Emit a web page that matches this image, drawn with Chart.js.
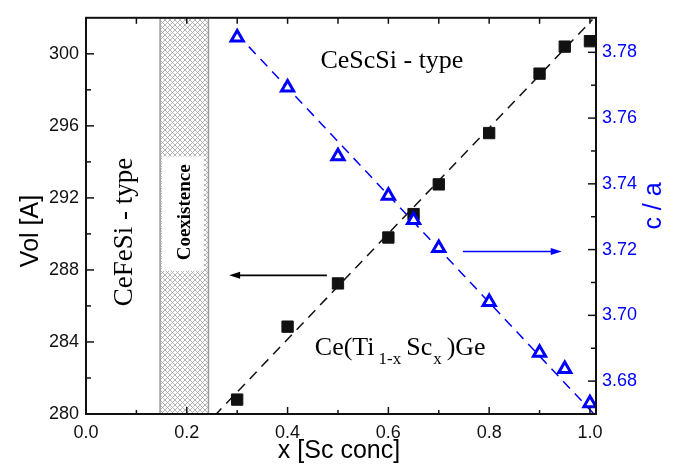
<!DOCTYPE html>
<html>
<head>
<meta charset="utf-8">
<script src="https://cdn.jsdelivr.net/npm/chart.js@4.4.0/dist/chart.umd.min.js"></script>
<style>
  html, body { margin: 0; padding: 0; background: #fff; }
  #wrap { width: 674px; height: 466px; }
</style>
</head>
<body>
<div id="wrap"><canvas id="chart" width="674" height="466"></canvas></div>
<script>
// Ce(Ti1-x Scx)Ge : cell volume (left) and c/a (right) vs Sc concentration

const scConc = [0.3, 0.4, 0.5, 0.6, 0.65, 0.7, 0.8, 0.9, 0.95, 1.0];
const cellVol = [280.8, 284.85, 287.25, 289.8, 291.1, 292.75, 295.6, 298.9, 300.4, 300.7];
const cOverA = [3.7845, 3.7693, 3.7484, 3.7364, 3.729, 3.7205, 3.7041, 3.6886, 3.6837, 3.6733];

// linear fits, end points only
const volFitX = [0.255, 1.005];
const volFit = [279.9, 301.9];
const caFitX = [0.3, 1.008];
const caFit = [3.7855, 3.670];

// two-phase region in x
const coexistence = [0.147, 0.243];

const xTicks = [0.0, 0.2, 0.4, 0.6, 0.8, 1.0];
const volTicks = [280, 284, 288, 292, 296, 300];
const caTicks = [3.68, 3.70, 3.72, 3.74, 3.76, 3.78];

const BLUE = '#0000ff';
const SANS = '"Liberation Sans", Arial, sans-serif';
const SERIF = '"Liberation Serif", "Times New Roman", serif';

function pts(xs, ys) {
  return xs.map((x, i) => ({ x: x, y: ys[i] }));
}

// crosshatch fill for the coexistence band
function makeHatch(ctx) {
  const n = 5;
  const c = document.createElement('canvas');
  c.width = n; c.height = n;
  const p = c.getContext('2d');
  p.fillStyle = '#fff';
  p.fillRect(0, 0, n, n);
  p.strokeStyle = '#a2a2a2';
  p.lineWidth = 0.8;
  p.beginPath();
  p.moveTo(0, 0); p.lineTo(n, n);
  p.moveTo(n, 0); p.lineTo(0, n);
  p.stroke();
  return ctx.createPattern(c, 'repeat');
}

const band = {
  id: 'band',
  beforeDatasetsDraw(chart) {
    const { ctx, chartArea: a, scales } = chart;
    const sx = scales.x, sy = scales.y;
    const x0 = sx.getPixelForValue(coexistence[0]);
    const x1 = sx.getPixelForValue(coexistence[1]);
    ctx.save();
    ctx.fillStyle = makeHatch(ctx);
    ctx.fillRect(x0, a.top, x1 - x0, a.height);
    ctx.strokeStyle = '#9a9a9a';
    ctx.lineWidth = 1.5;
    ctx.strokeRect(x0, a.top, x1 - x0, a.height);

    // label box
    const bx0 = sx.getPixelForValue(0.151), bx1 = sx.getPixelForValue(0.234);
    const by0 = sy.getPixelForValue(294.3), by1 = sy.getPixelForValue(287.95);
    ctx.fillStyle = '#fff';
    ctx.fillRect(bx0, by0, bx1 - bx0, by1 - by0);
    ctx.fillStyle = '#000';
    ctx.font = 'bold 19px ' + SERIF;
    ctx.translate(sx.getPixelForValue(0.206), sy.getPixelForValue(291.2));
    ctx.rotate(-Math.PI / 2);
    ctx.textAlign = 'center';
    ctx.textBaseline = 'alphabetic';
    ctx.fillText('Coexistence', 0, 0);
    ctx.restore();
  }
};

function arrow(ctx, x1, y, x2, color) {
  const dir = Math.sign(x2 - x1);
  ctx.strokeStyle = color;
  ctx.fillStyle = color;
  ctx.lineWidth = 1.6;
  ctx.beginPath();
  ctx.moveTo(x1, y);
  ctx.lineTo(x2 - dir * 6, y);
  ctx.stroke();
  ctx.beginPath();
  ctx.moveTo(x2, y);
  ctx.lineTo(x2 - dir * 11, y - 3.5);
  ctx.lineTo(x2 - dir * 11, y + 3.5);
  ctx.closePath();
  ctx.fill();
}

const notes = {
  id: 'notes',
  afterDatasetsDraw(chart) {
    const { ctx, scales } = chart;
    const sx = scales.x, sy = scales.y, sc = scales.y2;
    ctx.save();
    ctx.fillStyle = '#000';
    ctx.textBaseline = 'alphabetic';

    ctx.font = '26px ' + SERIF;
    ctx.textAlign = 'center';
    ctx.fillText('CeScSi - type', sx.getPixelForValue(0.607), sy.getPixelForValue(299.2));

    // Ce(Ti1-x Scx)Ge with subscripts
    let x = sx.getPixelForValue(0.454);
    const y = sy.getPixelForValue(283.3);
    ctx.textAlign = 'left';
    const parts = [['Ce(Ti', 26, 0, 4], ['1-x', 17, 9, 5], ['Sc', 26, 0, 1], ['x', 17, 9, 5], [')Ge', 26, 0, 0]];
    parts.forEach(([t, size, dy, gap]) => {
      ctx.font = size + 'px ' + SERIF;
      ctx.fillText(t, x, y + dy);
      x += ctx.measureText(t).width + gap;
    });

    ctx.save();
    ctx.font = '27px ' + SERIF;
    ctx.textAlign = 'center';
    ctx.translate(sx.getPixelForValue(0.091), sy.getPixelForValue(290.1));
    ctx.rotate(-Math.PI / 2);
    ctx.fillText('CeFeSi - type', 0, 0);
    ctx.restore();

    // arrows pointing to the axis each series belongs to
    arrow(ctx, sx.getPixelForValue(0.478), sy.getPixelForValue(287.7), sx.getPixelForValue(0.284), '#000');
    arrow(ctx, sx.getPixelForValue(0.748), sc.getPixelForValue(3.7194), sx.getPixelForValue(0.944), BLUE);
    ctx.restore();
  }
};

const frame = {
  id: 'frame',
  afterDraw(chart) {
    const { ctx, chartArea: a, scales } = chart;
    const sx = scales.x, sy = scales.y, sc = scales.y2;
    ctx.save();
    ctx.strokeStyle = '#111';
    ctx.lineWidth = 1.5;
    const line = (x1, y1, x2, y2) => {
      ctx.beginPath(); ctx.moveTo(x1, y1); ctx.lineTo(x2, y2); ctx.stroke();
    };
    xTicks.forEach((v, i) => {
      const p = sx.getPixelForValue(v);
      line(p, a.bottom, p, a.bottom - 7);
      line(p, a.top, p, a.top + 6);
      if (i < xTicks.length - 1) {
        const m = sx.getPixelForValue((v + xTicks[i + 1]) / 2);
        line(m, a.bottom, m, a.bottom - 4);
        line(m, a.top, m, a.top + 6);
      }
    });
    volTicks.forEach((v, i) => {
      const p = sy.getPixelForValue(v);
      line(a.left, p, a.left + 8, p);
      if (i < volTicks.length - 1) {
        const m = sy.getPixelForValue((v + volTicks[i + 1]) / 2);
        line(a.left, m, a.left + 5, m);
      }
    });
    caTicks.forEach((v, i) => {
      const p = sc.getPixelForValue(v);
      line(a.right, p, a.right - 8, p);
      if (i < caTicks.length - 1) {
        const m = sc.getPixelForValue((v + caTicks[i + 1]) / 2);
        line(a.right, m, a.right - 5, m);
      }
    });
    ctx.lineWidth = 2;
    ctx.strokeRect(a.left, a.top, a.width, a.height);

    // axis titles
    ctx.textBaseline = 'alphabetic';
    ctx.textAlign = 'center';
    ctx.fillStyle = '#000';
    ctx.font = '25px ' + SANS;
    ctx.fillText('x [Sc conc]', 339, 458);
    ctx.save();
    ctx.translate(38, 231);
    ctx.rotate(-Math.PI / 2);
    ctx.fillText('Vol [A]', 0, 0);
    ctx.restore();
    ctx.save();
    ctx.fillStyle = BLUE;
    ctx.translate(661, 206);
    ctx.rotate(-Math.PI / 2);
    ctx.fillText('c / a', 0, 0);
    ctx.restore();
    ctx.restore();
  }
};

function fixedTicks(values) {
  return scale => { scale.ticks = values.map(v => ({ value: v })); };
}

const tickFont = { family: SANS, size: 18 };

new Chart(document.getElementById('chart'), {
  type: 'scatter',
  data: {
    datasets: [
      {
        label: 'c/a',
        data: pts(scConc, cOverA),
        yAxisID: 'y2',
        pointStyle: 'triangle',
        pointRadius: 7,
        pointBorderWidth: 3,
        borderColor: BLUE,
        backgroundColor: '#fff'
      },
      {
        label: 'Vol',
        data: pts(scConc, cellVol),
        yAxisID: 'y',
        pointStyle: 'rect',
        pointRadius: 8,
        pointBorderWidth: 1,
        borderColor: '#111',
        backgroundColor: '#111'
      },
      {
        label: 'c/a fit',
        data: pts(caFitX, caFit),
        yAxisID: 'y2',
        showLine: true,
        pointRadius: 0,
        borderColor: BLUE,
        borderWidth: 1.5,
        borderDash: [10, 7]
      },
      {
        label: 'Vol fit',
        data: pts(volFitX, volFit),
        yAxisID: 'y',
        showLine: true,
        pointRadius: 0,
        borderColor: '#111',
        borderWidth: 1.5,
        borderDash: [10, 7]
      }
    ]
  },
  options: {
    responsive: false,
    animation: false,
    layout: { padding: { top: 10, left: 0, right: 0, bottom: 0 } },
    plugins: { legend: { display: false }, tooltip: { enabled: false } },
    scales: {
      x: {
        type: 'linear',
        min: 0,
        max: 1.012,
        afterBuildTicks: fixedTicks(xTicks),
        afterFit: s => { s.height = 52; },
        grid: { display: false, drawTicks: false },
        border: { display: false },
        ticks: {
          padding: 8,
          color: '#111',
          font: tickFont,
          callback: v => v.toFixed(1)
        }
      },
      y: {
        position: 'left',
        min: 280,
        max: 302,
        afterBuildTicks: fixedTicks(volTicks),
        afterFit: s => { s.width = 86; },
        grid: { display: false, drawTicks: false },
        border: { display: false },
        ticks: {
          padding: 7,
          color: '#111',
          font: tickFont,
          callback: v => String(v)
        }
      },
      y2: {
        position: 'right',
        min: 3.67,
        max: 3.7905,
        afterBuildTicks: fixedTicks(caTicks),
        afterFit: s => { s.width = 78; },
        grid: { display: false, drawTicks: false },
        border: { display: false },
        ticks: {
          padding: 6,
          color: BLUE,
          font: tickFont,
          callback: v => v.toFixed(2)
        }
      }
    }
  },
  plugins: [band, notes, frame]
});
</script>
</body>
</html>
